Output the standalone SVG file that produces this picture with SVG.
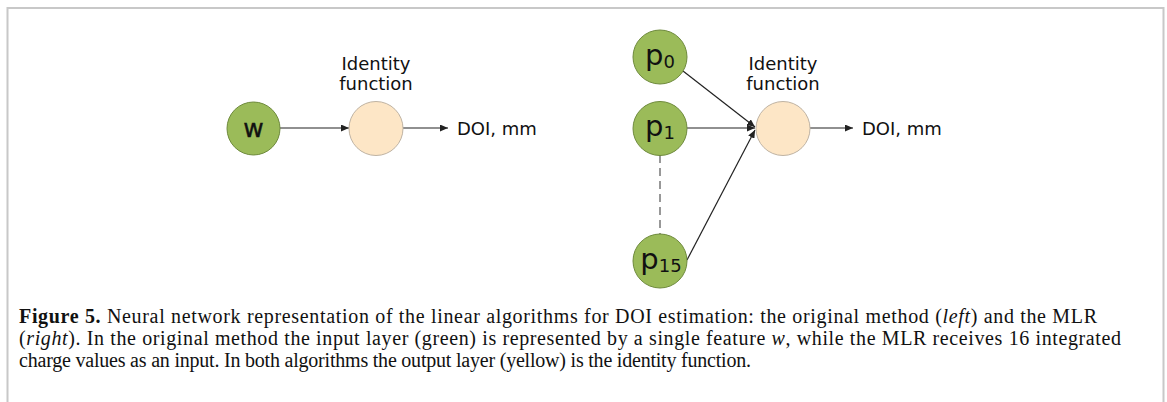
<svg xmlns="http://www.w3.org/2000/svg" width="1167" height="402" viewBox="0 0 1167 402">
<style>
.in{fill:#9bbb59;stroke:#6e8a3c;stroke-width:1}
.out{fill:#fde6c6;stroke:#bfb3a3;stroke-width:1}
.lbl{font-family:"DejaVu Sans",Verdana,sans-serif;font-size:18px;fill:#111}
.nl{font-family:"DejaVu Sans",Verdana,sans-serif;fill:#111;text-anchor:middle}
.cap{font-family:"Liberation Serif","Times New Roman",serif;font-size:20px;fill:#111}
.edge{stroke:#222;stroke-width:1.2;fill:none;marker-end:url(#ah)}
</style>
<defs>
<marker id="ah" markerUnits="userSpaceOnUse" markerWidth="9" markerHeight="7" refX="8" refY="3.5" orient="auto">
<path d="M0,0 L8,3.5 L0,7 z" fill="#222"/>
</marker>
</defs>
<path d="M7.5,402 V8 H1163.5 V402" fill="none" stroke="#c8c8c8" stroke-width="2"/>
<g id="connectors">
<line class="edge" x1="280" y1="128" x2="349" y2="128"/>
<line class="edge" x1="403" y1="128" x2="448" y2="128"/>
<line class="edge" x1="683" y1="71" x2="755" y2="127"/>
<line class="edge" x1="687" y1="128" x2="755" y2="128"/>
<line class="edge" x1="687" y1="260" x2="755" y2="130"/>
<line x1="660" y1="155" x2="660" y2="234" stroke="#777" stroke-width="1.5" stroke-dasharray="8,5"/>
<line class="edge" x1="810" y1="128" x2="853" y2="128"/>
</g>
<g id="node-w">
<circle class="in" cx="253.5" cy="128.5" r="26.5"/>
<text class="nl" x="253.5" y="137" font-size="25" font-weight="500" stroke="#111" stroke-width="0.4">w</text>
</g>
<g id="node-id-left">
<circle class="out" cx="376" cy="128.5" r="27"/>
<text class="lbl" x="376" y="70" text-anchor="middle">Identity</text>
<text class="lbl" x="376" y="90" text-anchor="middle">function</text>
</g>
<g id="out-left">
<text class="lbl" x="457" y="135">DOI, mm</text>
</g>
<g id="node-p0">
<circle class="in" cx="660" cy="57" r="27"/>
<text class="nl" x="660" y="65" font-size="29">p<tspan font-size="18" dy="3">0</tspan></text>
</g>
<g id="node-p1">
<circle class="in" cx="660" cy="128.5" r="27"/>
<text class="nl" x="660" y="136" font-size="29">p<tspan font-size="18" dy="3">1</tspan></text>
</g>
<g id="node-p15">
<circle class="in" cx="660" cy="261" r="27"/>
<text class="nl" x="661" y="269" font-size="29">p<tspan font-size="18" dy="3">15</tspan></text>
</g>
<g id="node-id-right">
<circle class="out" cx="783" cy="128.5" r="27"/>
<text class="lbl" x="783" y="70" text-anchor="middle">Identity</text>
<text class="lbl" x="783" y="90" text-anchor="middle">function</text>
</g>
<g id="out-right">
<text class="lbl" x="862" y="135">DOI, mm</text>
</g>
<g id="caption">
<text class="cap" x="19" y="323" textLength="1078" lengthAdjust="spacing"><tspan font-weight="bold">Figure 5.</tspan> Neural network representation of the linear algorithms for DOI estimation: the original method (<tspan font-style="italic">left</tspan>) and the MLR</text>
<text class="cap" x="19" y="345" textLength="1102" lengthAdjust="spacing">(<tspan font-style="italic">right</tspan>). In the original method the input layer (green) is represented by a single feature <tspan font-style="italic">w</tspan>, while the MLR receives 16 integrated</text>
<text class="cap" x="19" y="367" textLength="732" lengthAdjust="spacing">charge values as an input. In both algorithms the output layer (yellow) is the identity function.</text>
</g>
</svg>
